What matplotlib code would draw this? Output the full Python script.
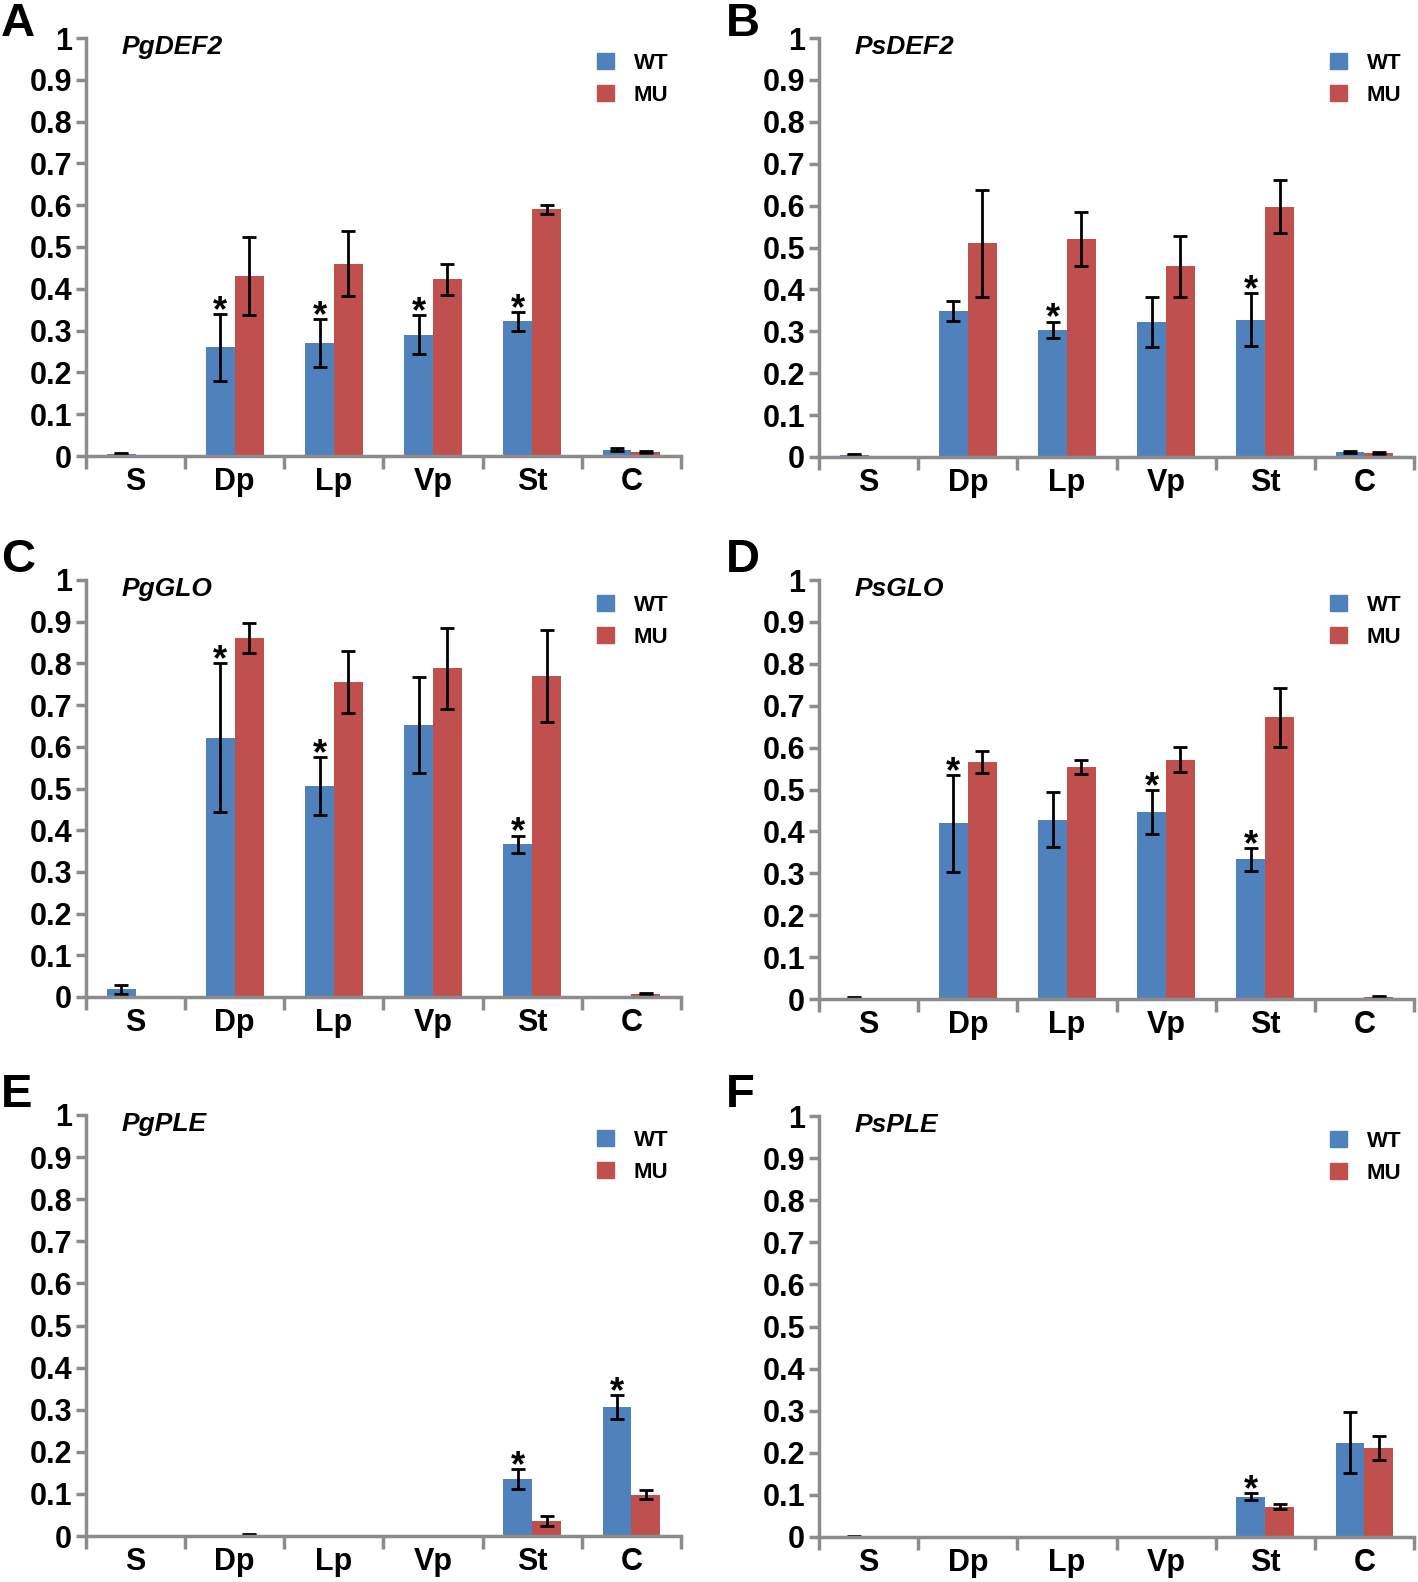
import numpy as np
import matplotlib
matplotlib.use('Agg')
import matplotlib.pyplot as plt
from matplotlib.patches import Patch

plt.rcParams['font.family'] = ['Liberation Sans', 'DejaVu Sans']

categories = ['S', 'Dp', 'Lp', 'Vp', 'St', 'C']

# panel A - PgDEF2
a_wt = [0.005, 0.26, 0.27, 0.29, 0.322, 0.015]
a_wt_err = [0.001, 0.08, 0.058, 0.047, 0.023, 0.003]
a_mu = [0.0, 0.43, 0.46, 0.423, 0.59, 0.01]
a_mu_err = [0.0, 0.093, 0.078, 0.037, 0.01, 0.002]
a_star = ['Dp', 'Lp', 'Vp', 'St']

# panel B - PsDEF2
b_wt = [0.005, 0.348, 0.303, 0.322, 0.328, 0.012]
b_wt_err = [0.001, 0.024, 0.02, 0.06, 0.063, 0.002]
b_mu = [-0.002, 0.51, 0.52, 0.455, 0.597, 0.01]
b_mu_err = [0.0, 0.127, 0.065, 0.073, 0.063, 0.002]
b_star = ['Lp', 'St']

# panel C - PgGLO
c_wt = [0.018, 0.622, 0.506, 0.652, 0.366, -0.003]
c_wt_err = [0.01, 0.178, 0.07, 0.116, 0.021, 0.0]
c_mu = [0.0, 0.862, 0.755, 0.788, 0.77, 0.008]
c_mu_err = [0.0, 0.036, 0.075, 0.098, 0.111, 0.001]
c_star = ['Dp', 'Lp', 'St']

# panel D - PsGLO
d_wt = [0.003, 0.419, 0.428, 0.446, 0.333, -0.004]
d_wt_err = [0.001, 0.115, 0.065, 0.052, 0.028, 0.0]
d_mu = [-0.003, 0.566, 0.554, 0.571, 0.672, 0.005]
d_mu_err = [0.0, 0.026, 0.016, 0.03, 0.07, 0.001]
d_star = ['Dp', 'Vp', 'St']

# panel E - PgPLE
e_wt = [0.0, -0.003, -0.003, -0.003, 0.135, 0.307]
e_wt_err = [0.0, 0.0, 0.0, 0.0, 0.024, 0.028]
e_mu = [0.0, 0.003, 0.0, 0.0, 0.036, 0.098]
e_mu_err = [0.0, 0.001, 0.0, 0.0, 0.012, 0.011]
e_star = ['St', 'C']

# panel F - PsPLE
f_wt = [0.002, -0.003, -0.003, 0.0, 0.096, 0.224]
f_wt_err = [0.001, 0.0, 0.0, 0.0, 0.008, 0.072]
f_mu = [0.0, 0.0, -0.003, -0.003, 0.072, 0.211]
f_mu_err = [0.0, 0.0, 0.0, 0.0, 0.006, 0.028]
f_star = ['St']

panels = [
    ('A', 'PgDEF2', a_wt, a_wt_err, a_mu, a_mu_err, a_star),
    ('B', 'PsDEF2', b_wt, b_wt_err, b_mu, b_mu_err, b_star),
    ('C', 'PgGLO', c_wt, c_wt_err, c_mu, c_mu_err, c_star),
    ('D', 'PsGLO', d_wt, d_wt_err, d_mu, d_mu_err, d_star),
    ('E', 'PgPLE', e_wt, e_wt_err, e_mu, e_mu_err, e_star),
    ('F', 'PsPLE', f_wt, f_wt_err, f_mu, f_mu_err, f_star),
]

blue = '#4F81BD'
red = '#C0504D'
gray = '#8C8C8C'

W, H = 1418, 1582
fig = plt.figure(figsize=(W / 100, H / 100), dpi=100)

# axes boxes in pixels: left, top, right, bottom
boxes = [
    (86, 38, 681, 456), (819, 38, 1414, 457),
    (86, 580, 681, 997), (819, 580, 1414, 999),
    (86, 1115, 681, 1536), (819, 1116, 1414, 1537),
]
letter_pos = [(1, 2), (726, 2), (1, 538), (726, 538), (1, 1073), (726, 1073)]

x = np.arange(len(categories))
bw = 0.29

for (letter, gene, wt, wt_err, mu, mu_err, stars), (l, t, r, b), (lx, ly) in zip(panels, boxes, letter_pos):
    ax = fig.add_axes([l / W, 1 - b / H, (r - l) / W, (b - t) / H])
    ax.bar(x - bw / 2, wt, bw, color=blue, edgecolor='none', clip_on=False, label='WT')
    ax.bar(x + bw / 2, mu, bw, color=red, edgecolor='none', clip_on=False, label='MU')

    wt_a = np.array(wt)
    mu_a = np.array(mu)
    we = np.array(wt_err)
    me = np.array(mu_err)
    m = we > 0
    ax.errorbar(x[m] - bw / 2, wt_a[m], yerr=we[m], fmt='none', ecolor='black',
                elinewidth=2, capsize=5, capthick=2, clip_on=False)
    m = me > 0
    ax.errorbar(x[m] + bw / 2, mu_a[m], yerr=me[m], fmt='none', ecolor='black',
                elinewidth=2, capsize=5, capthick=2, clip_on=False)

    # significance marks above WT bars
    for s in stars:
        i = categories.index(s)
        ax.annotate('*', xy=(i - bw / 2, wt[i] + wt_err[i]), xytext=(0, -5),
                    textcoords='offset points', ha='center', va='baseline',
                    fontsize=26, fontweight='bold')

    ax.set_xlim(-0.5, 5.5)
    ax.set_ylim(0, 1)
    for sp in ['top', 'right']:
        ax.spines[sp].set_visible(False)
    for sp in ['left', 'bottom']:
        ax.spines[sp].set_color(gray)
        ax.spines[sp].set_linewidth(2.5)

    ax.set_yticks(np.arange(0, 1.01, 0.1))
    ax.set_yticklabels(['0'] + ['%.1f' % v for v in np.arange(0.1, 0.95, 0.1)] + ['1'],
                       fontsize=22, fontweight='bold')
    ax.tick_params(axis='y', direction='out', length=7, width=2.5, color=gray, pad=3)

    ax.set_xticks(x)
    ax.set_xticklabels(categories, fontsize=22, fontweight='bold')
    ax.set_xticks(np.arange(-0.5, 5.6, 1), minor=True)
    ax.tick_params(axis='x', which='major', length=0, pad=8)
    ax.tick_params(axis='x', which='minor', direction='out', length=9, width=2.5, color=gray)

    ax.text(0.06, 0.978, gene, transform=ax.transAxes, fontsize=19, fontweight='bold',
            fontstyle='italic', ha='left', va='center')

    handles = [Patch(color=blue, label='WT'), Patch(color=red, label='MU')]
    ax.legend(handles=handles, loc='upper right', bbox_to_anchor=(1.012, 1.012), frameon=False,
              handlelength=0.75, handleheight=0.75, handletextpad=0.9, labelspacing=0.5,
              prop={'size': 16, 'weight': 'bold'})

    fig.text(lx / W, 1 - ly / H, letter, fontsize=34, fontweight='bold', ha='left', va='top')

fig.savefig('out.png', dpi=100)
